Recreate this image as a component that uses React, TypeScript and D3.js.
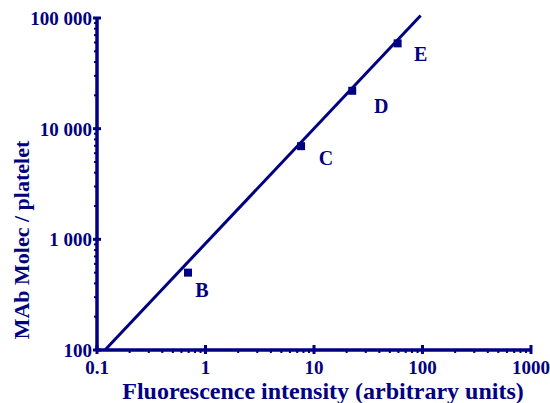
import React from "react";
import * as d3 from "d3";

const pointNames = ["B", "C", "D", "E"];
const pointX = [0.69, 7.6, 22.5, 59];
const pointY = [500, 6950, 22000, 59000];
const labelDx = [14, 25, 29, 23];
const labelDy = [24, 19, 22, 18];
const fitX = [0.1185, 96.2];
const fitY = [100, 105500];
const xTicks = [0.1, 1, 10, 100, 1000];
const xTickLabels = ["0.1", "1", "10", "100", "1000"];
const yTicks = [100, 1000, 10000, 100000];
const yTickLabels = ["100", "1 000", "10 000", "100 000"];

const NAVY = "#000080";
const FONT = "'Liberation Serif', 'Times New Roman', serif";

export default function App() {
  const W = 550, H = 403;
  const x = d3.scaleLog().domain([0.1, 1000]).range([97, 531]);
  const y = d3.scaleLog().domain([100, 100000]).range([350, 18]);

  const minorX: number[] = [];
  for (let d = 0.1; d < 1000; d *= 10) for (let k = 2; k <= 9; k++) minorX.push(d * k);
  const minorY: number[] = [];
  for (let d = 100; d < 100000; d *= 10) for (let k = 2; k <= 9; k++) minorY.push(d * k);

  const line = d3.line<number>().x((_, i) => x(fitX[i])).y((_, i) => y(fitY[i]));

  const x0 = x(0.1), y0 = y(100);
  return (
    <svg width={W} height={H} style={{ position: "absolute", left: 0, top: 0, background: "#fff" }}>
      <path d={line(fitX) || ""} stroke={NAVY} strokeWidth={3} fill="none" />
      <line x1={x0} x2={x(1000)} y1={y0} y2={y0} stroke={NAVY} strokeWidth={3.5} />
      <line x1={x0} x2={x0} y1={y0} y2={y(100000)} stroke={NAVY} strokeWidth={3.5} />
      {minorX.map((v, i) => (
        <line key={"mx" + i} x1={x(v)} x2={x(v)} y1={y0} y2={y0 + 3} stroke={NAVY} strokeWidth={2} />
      ))}
      {minorY.map((v, i) => (
        <line key={"my" + i} x1={x0 - 3} x2={x0} y1={y(v)} y2={y(v)} stroke={NAVY} strokeWidth={2} />
      ))}
      {xTicks.map((v, i) => (
        <g key={"xt" + i}>
          <line x1={x(v)} x2={x(v)} y1={y0 - 5} y2={y0 + 4} stroke={NAVY} strokeWidth={3} />
          <text x={x(v)} y={374} textAnchor="middle" fontFamily={FONT} fontWeight="bold" fontSize={19} fill={NAVY}>
            {xTickLabels[i]}
          </text>
        </g>
      ))}
      {yTicks.map((v, i) => (
        <g key={"yt" + i}>
          <line x1={x0 - 4} x2={x0 + 4} y1={y(v)} y2={y(v)} stroke={NAVY} strokeWidth={3} />
          <text x={92} y={y(v) + 7} textAnchor="end" fontFamily={FONT} fontWeight="bold" fontSize={19} fill={NAVY}>
            {yTickLabels[i]}
          </text>
        </g>
      ))}
      {pointNames.map((n, i) => (
        <g key={n}>
          <rect x={x(pointX[i]) - 4} y={y(pointY[i]) - 4} width={8} height={8} fill={NAVY} />
          <text x={x(pointX[i]) + labelDx[i]} y={y(pointY[i]) + labelDy[i]} textAnchor="middle" fontFamily={FONT} fontWeight="bold" fontSize={20} fill={NAVY}>
            {n}
          </text>
        </g>
      ))}
      <text x={323} y={399} textAnchor="middle" fontFamily={FONT} fontWeight="bold" fontSize={24} fill={NAVY}>
        Fluorescence intensity (arbitrary units)
      </text>
      <text transform="translate(29,240) rotate(-90)" textAnchor="middle" fontFamily={FONT} fontWeight="bold" fontSize={22} fill={NAVY}>
        MAb Molec / platelet
      </text>
    </svg>
  );
}
